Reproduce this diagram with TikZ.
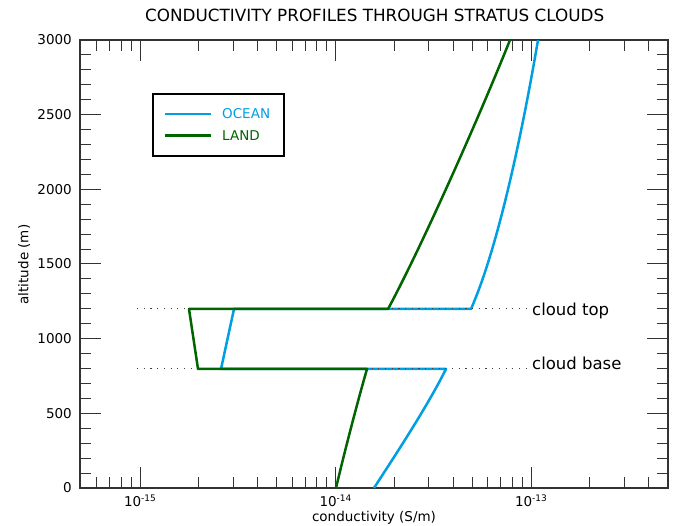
\documentclass[tikz,border=0pt]{standalone}
\usepackage{fontspec}
\setmainfont{DejaVu Sans}

\definecolor{oceanblue}{RGB}{0,158,226}
\definecolor{landgreen}{RGB}{0,100,0}

\tikzset{
  profile/.style={line width=2.5pt, line join=round},
  frame/.style={line width=1.2pt, black!80},
  tickmark/.style={line width=1pt, black!80},
  level/.style={line width=1pt, black!75, dash pattern=on 1.2pt off 5.5pt},
  ticklabel/.style={font=\fontsize{13.5}{16}\selectfont, inner sep=0pt},
  cloudlabel/.style={font=\fontsize{16.5}{19}\selectfont, inner sep=0pt, anchor=base west},
  legendlabel/.style={font=\fontsize{13.5}{16}\selectfont, inner sep=0pt, anchor=west},
}
\newcommand{\expo}[1]{\raisebox{0.75ex}{\fontsize{9}{9}\selectfont #1}}

\begin{document}
\begin{tikzpicture}[x=1pt,y=-1pt]
\useasboundingbox (0,0) rectangle (678,526);

% title and axis labels
\node (title) [anchor=base, inner sep=0pt, font=\fontsize{16.8}{20}\selectfont]
  at (374.7,21.3) {CONDUCTIVITY PROFILES THROUGH STRATUS CLOUDS};
\node (xlabel) [ticklabel, anchor=base] at (374,522) {conductivity (S/m)};
\node (ylabel) [ticklabel, anchor=base, rotate=90] at (28.3,264.5) {altitude (m)};

% x ticks, log scale, 195.5 per decade
\foreach \m in {6,...,9} {
  \draw[tickmark] ({-55.5+195.5*log10(\m)},488) -- ++(0,-11);
  \draw[tickmark] ({-55.5+195.5*log10(\m)},40) -- ++(0,11);
}
\foreach \b in {140,335.5} \foreach \m in {2,...,9} {
  \draw[tickmark] ({\b+195.5*log10(\m)},488) -- ++(0,-11);
  \draw[tickmark] ({\b+195.5*log10(\m)},40) -- ++(0,11);
}
\foreach \m in {2,3,4} {
  \draw[tickmark] ({531+195.5*log10(\m)},488) -- ++(0,-11);
  \draw[tickmark] ({531+195.5*log10(\m)},40) -- ++(0,11);
}
\foreach \xx/\e in {140/15,335.5/14,531/13} {
  \draw[tickmark] (\xx,488) -- ++(0,-21);
  \draw[tickmark] (\xx,40) -- ++(0,21);
  \node (x\e) [ticklabel, anchor=base] at (\xx,506.7) {10\expo{-\e}};
}

% y ticks, 448 per 3000 m
\foreach \a in {100,200,...,2900} {
  \draw[tickmark] (80,{488-0.149333*\a}) -- ++(11,0);
  \draw[tickmark] (668,{488-0.149333*\a}) -- ++(-11,0);
}
\foreach \a in {0,500,...,3000} {
  \draw[tickmark] (80,{488-0.149333*\a}) -- ++(21,0);
  \draw[tickmark] (668,{488-0.149333*\a}) -- ++(-21,0);
  \node (y\a) [ticklabel, anchor=east] at (72,{488-0.149333*\a}) {\a};
}
\draw[frame] (80,40) rectangle (668,488);

% ocean profile
\draw[profile, oceanblue]
  (374,488) .. controls (400,448) and (428,405) .. (446,369)
  -- (221,369) -- (234,309) -- (471,309)
  .. controls (497,250) and (521,140) .. (538,40);

% cloud levels
\node (ctop) [cloudlabel] at (532,316) {cloud top};
\node (cbase) [cloudlabel] at (532,370) {cloud base};
\coordinate (ctopl) at (137,309);
\coordinate (cbasel) at (137,369);
\draw[level] (ctopl) -- (ctopl -| ctop.west);
\draw[level] (cbasel) -- (cbasel -| cbase.west);

% land profile
\draw[profile, landgreen]
  (336,488) .. controls (345,450) and (358,400) .. (367,369)
  -- (198,369) -- (189,309) -- (388,309)
  .. controls (420,250) and (478,120) .. (510,40);

% legend
\node (legend) [draw, line width=2pt, minimum width=131, minimum height=62] at (218.3,125) {};
\node (ocean) [legendlabel, text=oceanblue] at (222,114) {OCEAN};
\node (land) [legendlabel, text=landgreen] at (222,135.5) {LAND};
\draw[profile, oceanblue, line width=2.3pt] (ocean.west) ++(-11,0) -- ++(-46,0);
\draw[profile, landgreen, line width=2.3pt] (land.west) ++(-11,0) -- ++(-46,0);
\end{tikzpicture}
\end{document}
